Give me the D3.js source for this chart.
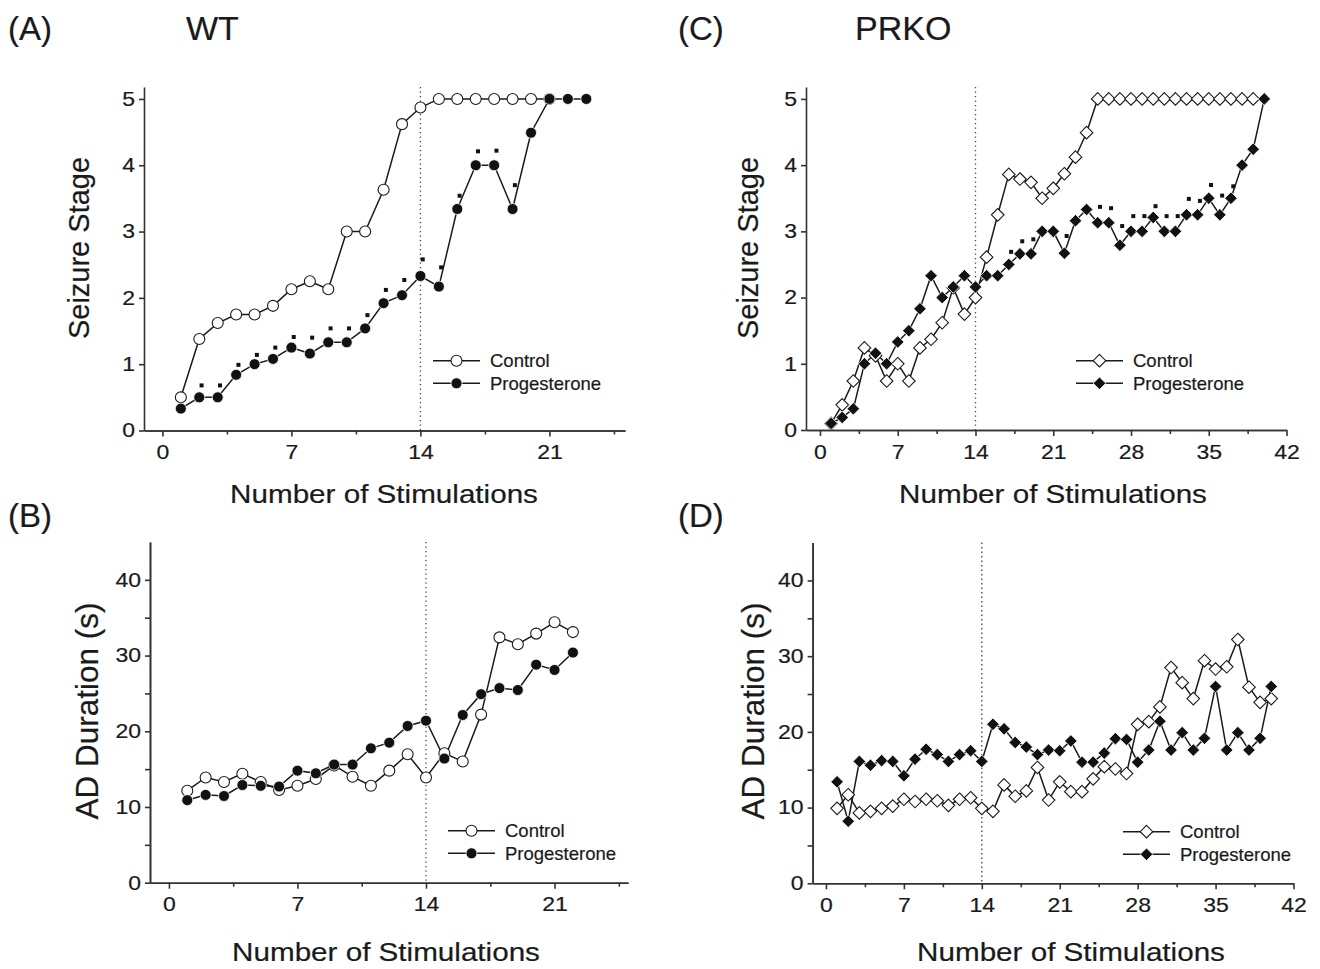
<!DOCTYPE html>
<html>
<head>
<meta charset="utf-8">
<script src="https://cdn.jsdelivr.net/npm/d3@7"></script>
<style>
    body { margin: 0; background: #fff; }
    svg text { font-family: "Liberation Sans", Arial, Helvetica, sans-serif; fill: #1a1a1a;
        stroke: #1a1a1a; stroke-width: 0.2px; }
</style>
</head>
<body>
<svg id="chart" width="1320" height="969"></svg>
<script>
// ---- data ----
// (A) WT seizure stage, stimulation 1..n
let wtCtrlStage = [0.5, 1.38, 1.62, 1.75, 1.75, 1.88, 2.13, 2.25, 2.13, 3.0, 3.0, 3.63, 4.62, 4.87,
    5, 5, 5, 5, 5, 5, 5];
let wtProgStage = [0.33, 0.5, 0.5, 0.84, 1.0, 1.08, 1.25, 1.16, 1.33, 1.33, 1.54, 1.92, 2.04, 2.33,
    2.17, 3.34, 4.0, 4.0, 3.34, 4.49, 5, 5, 5];
// significance marks (stimulation, height in stage units)
let wtSigStim = [2, 3, 4, 5, 6, 7, 8, 9, 10, 11, 12, 13, 14, 15, 16, 17, 18, 19];
let wtSigLevel = [0.68, 0.68, 0.99, 1.14, 1.25, 1.41, 1.40, 1.54, 1.54, 1.74, 2.12, 2.27, 2.58, 2.46,
    3.54, 4.21, 4.22, 3.70];

// (B) WT AD duration (s)
let wtCtrlAD = [12.15, 13.9, 13.3, 14.4, 13.3, 12.25, 12.8, 13.7, 15.5, 14.0, 12.8, 14.8, 16.96, 13.9,
    17.1, 16.0, 22.2, 32.4, 31.5, 32.9, 34.4, 33.1];
let wtProgAD = [10.9, 11.6, 11.45, 12.9, 12.8, 12.7, 14.8, 14.45, 15.6, 15.6, 17.75, 18.5, 20.7, 21.4,
    16.4, 22.15, 24.9, 25.7, 25.45, 28.8, 28.1, 30.4];

// (C) PRKO seizure stage
let prkoCtrlStage = [0.1, 0.38, 0.74, 1.24, 1.12, 0.74, 1.0, 0.74, 1.24, 1.37, 1.62, 2.15, 1.75, 2.0,
    2.61, 3.25, 3.86, 3.79, 3.74, 3.5, 3.65, 3.87, 4.12, 4.49,
    5, 5, 5, 5, 5, 5, 5, 5, 5, 5, 5, 5, 5, 5, 5];
let prkoProgStage = [0.1, 0.19, 0.32, 1.0, 1.16, 1.0, 1.33, 1.5, 1.83, 2.33, 2.0, 2.16, 2.33, 2.16,
    2.33, 2.33, 2.5, 2.66, 2.66, 3.0, 3.0, 2.67, 3.16, 3.33, 3.13, 3.13, 2.79, 3.0, 3.0, 3.21,
    3.0, 3.0, 3.25, 3.25, 3.5, 3.25, 3.5, 4.0, 4.24, 5];
let prkoSigStim = [17, 18, 19, 22, 25, 26, 27, 28, 29, 30, 31, 32, 33, 34, 35, 36, 37];
let prkoSigLevel = [2.69, 2.85, 2.88, 2.93, 3.37, 3.35, 3.08, 3.23, 3.23, 3.38, 3.23, 3.23, 3.49, 3.46,
    3.70, 3.54, 3.68];

// (D) PRKO AD duration (s)
let prkoCtrlAD = [9.9, 11.7, 9.3, 9.5, 9.9, 10.2, 11.1, 10.8, 11.1, 10.9, 10.3, 11.1, 11.3, 9.9, 9.5,
    13.0, 11.5, 12.2, 15.3, 11.0, 13.4, 12.1, 12.1, 13.8, 15.4, 15.1, 14.5, 21.0, 21.35, 23.3,
    28.5, 26.5, 24.4, 29.4, 28.3, 28.6, 32.2, 25.9, 23.9, 24.4];
let prkoProgAD = [13.4, 8.2, 16.1, 15.6, 16.2, 16.1, 14.2, 16.4, 17.7, 17.0, 16.1, 17.0, 17.5, 16.1,
    21.0, 20.4, 18.6, 18.0, 17.0, 17.6, 17.5, 18.8, 16.0, 16.0, 17.2, 19.1, 19.0, 16.0, 17.6, 21.4,
    17.6, 19.9, 17.6, 19.15, 26.0, 17.6, 19.9, 17.6, 19.15, 26.0];

// axis ticks
let stageTicks = [0, 1, 2, 3, 4, 5];
let adTicks = [0, 10, 20, 30, 40];
let adMinor = [5, 15, 25, 35];
let wtXTicks = [0, 7, 14, 21];
let wtXMinor = [3.5, 10.5, 17.5, 24.5];
let prkoXTicks = [0, 7, 14, 21, 28, 35, 42];
let prkoXMinor = [3.5, 10.5, 17.5, 24.5, 31.5, 38.5];
let dividerStim = 14;
let seriesNames = ["Control", "Progesterone"];

const INK = "#1a1a1a";
const WIDE = 1.15;   // the figure's horizontal text looks stretched
const svg = d3.select("#chart");

function diamond(r) {
    return "M0," + (-r) + "L" + r + ",0L0," + r + "L" + (-r) + ",0Z";
}

function markerPath(shape) {
    if (shape == "circle") {
        return d3.symbol().type(d3.symbolCircle).size(Math.PI * 5.5 * 5.5)();
    }
    return diamond(6.3);
}

function drawPanel(p) {
    let g = svg.append("g");
    let x = d3.scaleLinear().domain(p.xDomain).range(p.xRange);
    let y = d3.scaleLinear().domain(p.yDomain).range(p.yRange);

    // minor ticks first, then the real axes on top
    let xMinorAxis = d3.axisBottom(x).tickValues(p.xMinor).tickSize(4).tickFormat("").tickSizeOuter(0);
    g.append("g").attr("transform", "translate(0," + p.yRange[0] + ")").call(xMinorAxis);
    if (p.yMinor.length) {
        let yMinorAxis = d3.axisLeft(y).tickValues(p.yMinor).tickSize(5).tickFormat("").tickSizeOuter(0);
        g.append("g").attr("transform", "translate(" + p.xRange[0] + ",0)").call(yMinorAxis);
    }
    let xAxis = d3.axisBottom(x).tickValues(p.xTicks).tickSize(6).tickFormat(d3.format("d")).tickSizeOuter(0);
    let xg = g.append("g").attr("transform", "translate(0," + p.yRange[0] + ")").call(xAxis);
    let yAxis = d3.axisLeft(y).tickValues(p.yTicks).tickSize(5).tickFormat(d3.format("d")).tickSizeOuter(0);
    let yg = g.append("g").attr("transform", "translate(" + p.xRange[0] + ",0)").call(yAxis);

    g.selectAll(".domain, .tick line").attr("stroke", "#333").attr("stroke-width", 1.6);
    g.selectAll(".tick text").attr("font-size", 20).attr("fill", INK)
        .style("font-family", "'Liberation Sans', Arial, sans-serif");
    xg.selectAll(".tick text").attr("y", 0).attr("dy", 0)
        .attr("transform", "translate(0,28.5) scale(" + WIDE + ",1)");
    yg.selectAll(".tick text").attr("x", 0)
        .attr("transform", "translate(-9,0) scale(" + WIDE + ",1)");

    // dotted line at stimulation 14
    g.append("line")
        .attr("x1", x(dividerStim)).attr("x2", x(dividerStim))
        .attr("y1", p.yRange[1]).attr("y2", p.yRange[0])
        .attr("stroke", "#444").attr("stroke-width", 1.3)
        .attr("stroke-dasharray", "1.3,3.2");

    let line = d3.line().x(d => x(d[0])).y(d => y(d[1]));
    let ctrl = p.ctrl.map((v, i) => [i + 1, v]);
    let prog = p.prog.map((v, i) => [i + 1, v]);

    [ctrl, prog].forEach(s => {
        g.append("path").datum(s).attr("d", line)
            .attr("fill", "none").attr("stroke", INK).attr("stroke-width", 1.5);
    });

    let mk = markerPath(p.shape);
    g.selectAll(".ctrl").data(ctrl).join("path")
        .attr("class", "ctrl")
        .attr("transform", d => "translate(" + x(d[0]) + "," + y(d[1]) + ")")
        .attr("d", mk).attr("fill", "#fff").attr("stroke", INK).attr("stroke-width", 1.1);
    g.selectAll(".prog").data(prog).join("path")
        .attr("class", "prog")
        .attr("transform", d => "translate(" + x(d[0]) + "," + y(d[1]) + ")")
        .attr("d", mk).attr("fill", "#111").attr("stroke", "#fff").attr("stroke-width", 0.8);

    // significance squares
    if (p.sigStim) {
        g.selectAll(".sig").data(p.sigStim).join("rect")
            .attr("class", "sig")
            .attr("x", (d, i) => x(d) + 0.3)
            .attr("y", (d, i) => y(p.sigLevel[i]) - 2)
            .attr("width", 4).attr("height", 4)
            .attr("fill", "#111");
    }

    // axis titles
    g.append("text")
        .attr("transform", "translate(" + p.xLabel[0] + "," + p.xLabel[1] + ") scale(1.14,1)")
        .attr("text-anchor", "middle").attr("font-size", 26)
        .text("Number of Stimulations");
    g.append("text")
        .attr("transform", "translate(" + p.yLabel[0] + "," + p.yLabel[1] + ") rotate(-90)")
        .attr("text-anchor", "middle").attr("font-size", p.yTitleSize)
        .text(p.yTitle);

    // legend
    let lg = g.append("g").attr("transform", "translate(" + p.legend[0] + "," + p.legend[1] + ")");
    seriesNames.forEach((name, i) => {
        let row = lg.append("g").attr("transform", "translate(0," + (i * 22.6) + ")");
        row.append("line").attr("x1", 0).attr("x2", 47).attr("y1", 0).attr("y2", 0)
            .attr("stroke", INK).attr("stroke-width", 1.5);
        row.append("path").attr("transform", "translate(23.5,0)").attr("d", mk)
            .attr("fill", i == 0 ? "#fff" : "#111")
            .attr("stroke", i == 0 ? INK : "#fff")
            .attr("stroke-width", i == 0 ? 1.1 : 0.8);
        row.append("text").attr("x", 57).attr("y", 6.6).attr("font-size", 18.5).text(name);
    });

    // panel letter and genotype
    g.append("text").attr("x", p.letter[0]).attr("y", p.letter[1]).attr("font-size", 33).text(p.letterText);
    if (p.genotype) {
        g.append("text").attr("x", p.genotype[0]).attr("y", p.genotype[1]).attr("font-size", 34)
            .text(p.genotypeText);
    }
}

drawPanel({
    xDomain: [-1, 25.1], xRange: [144, 625], yDomain: [0, 5.18], yRange: [430.5, 87],
    xTicks: wtXTicks, xMinor: wtXMinor, yTicks: stageTicks, yMinor: [],
    ctrl: wtCtrlStage, prog: wtProgStage, shape: "circle",
    sigStim: wtSigStim, sigLevel: wtSigLevel,
    xLabel: [384, 503], yLabel: [89, 248], yTitle: "Seizure Stage", yTitleSize: 29,
    legend: [433, 360.7],
    letter: [8, 40], letterText: "(A)", genotype: [186, 40], genotypeText: "WT"
});

drawPanel({
    xDomain: [-1.03, 25], xRange: [150, 628], yDomain: [0, 45], yRange: [882.7, 542],
    xTicks: wtXTicks, xMinor: wtXMinor, yTicks: adTicks, yMinor: adMinor,
    ctrl: wtCtrlAD, prog: wtProgAD, shape: "circle",
    xLabel: [386, 961], yLabel: [98, 711], yTitle: "AD Duration (s)", yTitleSize: 31.5,
    legend: [448, 830.7],
    letter: [8, 527], letterText: "(B)"
});

drawPanel({
    xDomain: [-1.26, 42], xRange: [806, 1286.5], yDomain: [0, 5.18], yRange: [430, 87],
    xTicks: prkoXTicks, xMinor: prkoXMinor, yTicks: stageTicks, yMinor: [],
    ctrl: prkoCtrlStage, prog: prkoProgStage, shape: "diamond",
    sigStim: prkoSigStim, sigLevel: prkoSigLevel,
    xLabel: [1053, 503], yLabel: [758, 248], yTitle: "Seizure Stage", yTitleSize: 29,
    legend: [1076, 360.7],
    letter: [678, 40], letterText: "(C)", genotype: [855, 40], genotypeText: "PRKO"
});

drawPanel({
    xDomain: [-1.2, 42], xRange: [812.6, 1293.5], yDomain: [0, 45], yRange: [883.3, 542.6],
    xTicks: prkoXTicks, xMinor: prkoXMinor, yTicks: adTicks, yMinor: adMinor,
    ctrl: prkoCtrlAD, prog: prkoProgAD, shape: "diamond",
    xLabel: [1071, 961], yLabel: [764, 711], yTitle: "AD Duration (s)", yTitleSize: 31.5,
    legend: [1123, 831.7],
    letter: [678, 527], letterText: "(D)"
});
</script>
</body>
</html>
